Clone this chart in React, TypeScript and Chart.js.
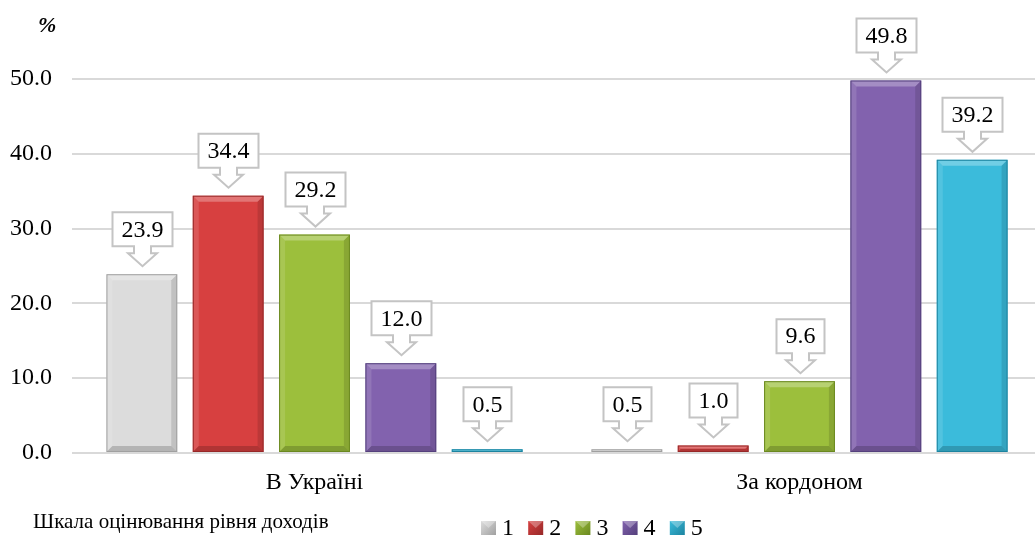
import React, { useEffect, useRef } from "react";
import { Chart, registerables } from "chart.js";

Chart.register(...registerables);

const categories = ["В Україні", "За кордоном"];
const seriesLabels = ["1", "2", "3", "4", "5"];
const series1 = [23.9, 0.5];
const series2 = [34.4, 1.0];
const series3 = [29.2, 9.6];
const series4 = [12.0, 49.8];
const series5 = [0.5, 39.2];
const yTicks = [0, 10, 20, 30, 40, 50];
const unitLabel = "%";
const legendTitle = "Шкала оцінювання рівня доходів";

const fills = ["#dcdcdc", "#d74040", "#9cbf3c", "#8262ae", "#3bbbdb"];
const borders = ["#a0a0a0", "#962828", "#6a8820", "#54407c", "#1c84a0"];

const FONT = '"Liberation Serif", "Times New Roman", serif';

const calloutPlugin = {
  id: "callouts",
  afterDatasetsDraw(chart: any) {
    const ctx = chart.ctx;
    ctx.save();
    chart.data.datasets.forEach((ds: any, di: number) => {
      const meta = chart.getDatasetMeta(di);
      meta.data.forEach((bar: any) => {
        const { x, y, base, width } = bar.getProps(["x", "y", "base", "width"], true);
        const l = x - width / 2;
        const r = x + width / 2;
        const h = base - y;
        const bv = Math.min(6, h / 2);
        if (h < 1) return;
        ctx.fillStyle = "rgba(255,255,255,0.28)";
        ctx.beginPath();
        ctx.moveTo(l, y);
        ctx.lineTo(r, y);
        ctx.lineTo(r - bv, y + bv);
        ctx.lineTo(l + bv, y + bv);
        ctx.closePath();
        ctx.fill();
        ctx.fillStyle = "rgba(255,255,255,0.12)";
        ctx.beginPath();
        ctx.moveTo(l, y);
        ctx.lineTo(l + bv, y + bv);
        ctx.lineTo(l + bv, base - bv);
        ctx.lineTo(l, base);
        ctx.closePath();
        ctx.fill();
        ctx.fillStyle = "rgba(0,0,0,0.12)";
        ctx.beginPath();
        ctx.moveTo(r, y);
        ctx.lineTo(r - bv, y + bv);
        ctx.lineTo(r - bv, base - bv);
        ctx.lineTo(r, base);
        ctx.closePath();
        ctx.fill();
        ctx.fillStyle = "rgba(0,0,0,0.18)";
        ctx.beginPath();
        ctx.moveTo(l, base);
        ctx.lineTo(l + bv, base - bv);
        ctx.lineTo(r - bv, base - bv);
        ctx.lineTo(r, base);
        ctx.closePath();
        ctx.fill();
        ctx.strokeStyle = borders[di];
        ctx.lineWidth = 1;
        ctx.strokeRect(l + 0.5, y + 0.5, width - 1, h - 1);
      });
    });
    ctx.font = `24px ${FONT}`;
    chart.data.datasets.forEach((ds: any, di: number) => {
      const meta = chart.getDatasetMeta(di);
      meta.data.forEach((bar: any, i: number) => {
        const { x, y } = bar.getProps(["x", "y"], true);
        const txt = Number(ds.data[i]).toFixed(1);
        const tw = ctx.measureText(txt).width;
        const bw = Math.round(tw + 18);
        const tip = y - 8;
        const headH = 13;
        const stemH = 7;
        const boxH = 34;
        const headW = 29;
        const stemW = 17;
        const bb = tip - headH - stemH;
        const bt = bb - boxH;
        const cx = Math.round(x) + 0.5;
        ctx.beginPath();
        ctx.moveTo(cx - bw / 2, bt);
        ctx.lineTo(cx + bw / 2, bt);
        ctx.lineTo(cx + bw / 2, bb);
        ctx.lineTo(cx + stemW / 2, bb);
        ctx.lineTo(cx + stemW / 2, bb + stemH);
        ctx.lineTo(cx + headW / 2, bb + stemH);
        ctx.lineTo(cx, tip);
        ctx.lineTo(cx - headW / 2, bb + stemH);
        ctx.lineTo(cx - stemW / 2, bb + stemH);
        ctx.lineTo(cx - stemW / 2, bb);
        ctx.lineTo(cx - bw / 2, bb);
        ctx.closePath();
        ctx.fillStyle = "#ffffff";
        ctx.fill();
        ctx.strokeStyle = "#c4c4c4";
        ctx.lineWidth = 2;
        ctx.stroke();
        ctx.fillStyle = "#000000";
        ctx.textAlign = "center";
        ctx.textBaseline = "middle";
        ctx.fillText(txt, cx, (bt + bb) / 2 + 1);
      });
    });
    ctx.restore();
  },
  afterDraw(chart: any) {
    const ctx = chart.ctx;
    ctx.save();
    ctx.fillStyle = "#000";
    ctx.font = `bold italic 22px ${FONT}`;
    ctx.textAlign = "left";
    ctx.textBaseline = "middle";
    ctx.fillText(unitLabel, 38, 26);
    ctx.font = `21px ${FONT}`;
    ctx.textBaseline = "alphabetic";
    ctx.fillText(legendTitle, 33, 528);
    let lx = 481;
    ctx.font = `24px ${FONT}`;
    seriesLabels.forEach((s, i) => {
      const g = ctx.createLinearGradient(lx, 521, lx + 15, 535);
      g.addColorStop(0, fills[i]);
      g.addColorStop(1, borders[i]);
      ctx.fillStyle = g;
      ctx.fillRect(lx, 521, 15, 14);
      ctx.fillStyle = "rgba(255,255,255,0.3)";
      ctx.beginPath();
      ctx.moveTo(lx, 521);
      ctx.lineTo(lx + 15, 521);
      ctx.lineTo(lx + 7.5, 528);
      ctx.closePath();
      ctx.fill();
      ctx.fillStyle = "#000";
      ctx.fillText(s, lx + 21, 535);
      lx += 47.2;
    });
    ctx.restore();
  },
};

export default function App() {
  const ref = useRef<HTMLCanvasElement>(null);
  useEffect(() => {
    document.body.style.margin = "0";
    const all = [series1, series2, series3, series4, series5];
    const chart = new Chart(ref.current as HTMLCanvasElement, {
      type: "bar",
      data: {
        labels: categories,
        datasets: all.map((d, i) => ({
          label: seriesLabels[i],
          data: d,
          backgroundColor: fills[i],
          borderWidth: 0,
          categoryPercentage: 0.89,
          barPercentage: 0.82,
        })),
      },
      options: {
        responsive: false,
        animation: false,
        layout: { padding: { top: 79, left: 0, right: 3, bottom: 0 } },
        plugins: { legend: { display: false }, tooltip: { enabled: false } },
        scales: {
          x: {
            grid: { display: false, drawTicks: false },
            border: { display: false },
            ticks: { color: "#000", font: { family: FONT, size: 24 }, padding: 15 },
            afterFit: (s: any) => {
              s.height = 84;
            },
          },
          y: {
            min: 0,
            max: 50,
            afterBuildTicks: (s: any) => {
              s.ticks = yTicks.map((v) => ({ value: v }));
            },
            grid: { color: "#d9d9d9", lineWidth: 2, drawTicks: false },
            border: { display: false },
            ticks: {
              color: "#000",
              font: { family: FONT, size: 24 },
              padding: 20,
              callback: (v: any) => Number(v).toFixed(1),
            },
            afterFit: (s: any) => {
              s.width = 72;
            },
          },
        },
      },
      plugins: [calloutPlugin],
    });
    return () => chart.destroy();
  }, []);
  return (
    <div style={{ position: "fixed", left: 0, top: 0, width: 1035, height: 537, overflow: "hidden", background: "#fff" }}>
      <canvas ref={ref} width={1045} height={537} style={{ display: "block" }} />
    </div>
  );
}
